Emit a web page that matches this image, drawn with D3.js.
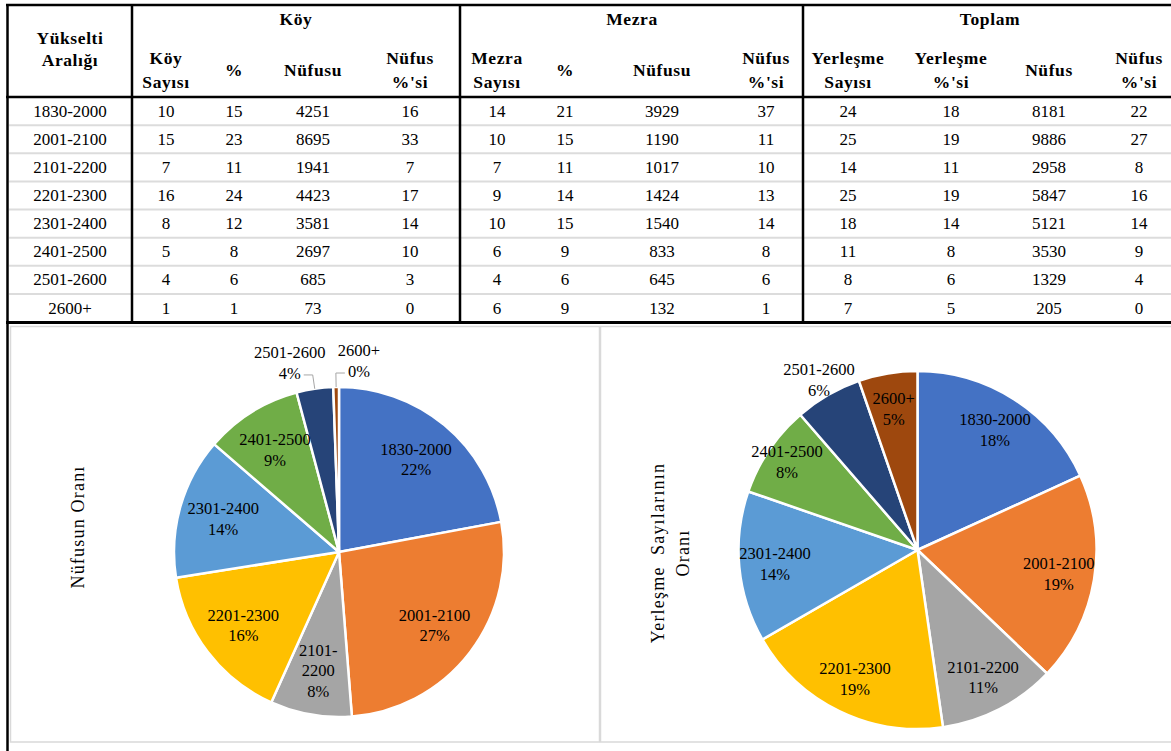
<!DOCTYPE html>
<html>
<head>
<meta charset="utf-8">
<script src="https://cdn.jsdelivr.net/npm/d3@7/dist/d3.min.js"></script>
<style>
  body { margin: 0; background: #fff; }
  text { font-family: "Liberation Serif", "Times New Roman", serif; fill: #000; }
</style>
</head>
<body>
<svg id="chart" width="1171" height="751"></svg>
<script>
var ranges = ["1830-2000", "2001-2100", "2101-2200", "2201-2300", "2301-2400", "2401-2500", "2501-2600", "2600+"];

var koySayisi     = [10, 15, 7, 16, 8, 5, 4, 1];
var koyPct        = [15, 23, 11, 24, 12, 8, 6, 1];
var koyNufus      = [4251, 8695, 1941, 4423, 3581, 2697, 685, 73];
var koyNufusPct   = [16, 33, 7, 17, 14, 10, 3, 0];

var mezraSayisi   = [14, 10, 7, 9, 10, 6, 4, 6];
var mezraPct      = [21, 15, 11, 14, 15, 9, 6, 9];
var mezraNufus    = [3929, 1190, 1017, 1424, 1540, 833, 645, 132];
var mezraNufusPct = [37, 11, 10, 13, 14, 8, 6, 1];

var yerlesmeSayisi = [24, 25, 14, 25, 18, 11, 8, 7];
var yerlesmePct    = [18, 19, 11, 19, 14, 8, 6, 5];
var toplamNufus    = [8181, 9886, 2958, 5847, 5121, 3530, 1329, 205];
var toplamNufusPct = [22, 27, 8, 16, 14, 9, 4, 0];

var groupHeaders = ["Köy", "Mezra", "Toplam"];
var firstHeader = ["Yükselti", "Aralığı"];
var pieTitles = [["Nüfusun Oranı"], ["Yerleşme  Sayılarının", "Oranı"]];

var palette = ["#4472C4", "#ED7D31", "#A5A5A5", "#FFC000", "#5B9BD5", "#70AD47", "#264478", "#9E480E"];

var columns = [
  { head: ["Köy", "Sayısı"], values: koySayisi },
  { head: ["%"], values: koyPct },
  { head: ["Nüfusu"], values: koyNufus },
  { head: ["Nüfus", "%'si"], values: koyNufusPct },
  { head: ["Mezra", "Sayısı"], values: mezraSayisi },
  { head: ["%"], values: mezraPct },
  { head: ["Nüfusu"], values: mezraNufus },
  { head: ["Nüfus", "%'si"], values: mezraNufusPct },
  { head: ["Yerleşme", "Sayısı"], values: yerlesmeSayisi },
  { head: ["Yerleşme", "%'si"], values: yerlesmePct },
  { head: ["Nüfus"], values: toplamNufus },
  { head: ["Nüfus", "%'si"], values: toplamNufusPct }
];

var svg = d3.select('#chart');
var WIDTH = 1171, HEIGHT = 751;

svg.append('rect').attr('width', WIDTH).attr('height', HEIGHT).attr('fill', '#fff');

// ---- table ----
var colX = d3.scaleOrdinal()
  .domain(d3.range(columns.length))
  .range([166, 234, 313, 410, 497, 565, 662, 766, 848, 951, 1049, 1139]);
var groupX = d3.scaleOrdinal().domain(groupHeaders).range([296, 632, 990]);
var rowY = d3.scaleBand().domain(ranges).range([97, 322]);

var table = svg.append('g').attr('class', 'table');

// light row separators
table.selectAll('line.rowsep')
  .data(ranges.slice(1))
  .enter().append('line')
  .attr('x1', 9).attr('x2', WIDTH)
  .attr('y1', function(d) { return rowY(d); })
  .attr('y2', function(d) { return rowY(d); })
  .attr('stroke', '#dcdcdc')
  .attr('stroke-width', 2);

// frames of the two charts
var frames = [[10.5, 326.5, 589, 415.5], [600.5, 326.5, 580, 415.5]];
svg.selectAll('rect.frame')
  .data(frames)
  .enter().append('rect')
  .attr('x', function(d) { return d[0]; })
  .attr('y', function(d) { return d[1]; })
  .attr('width', function(d) { return d[2]; })
  .attr('height', function(d) { return d[3]; })
  .attr('fill', 'none')
  .attr('stroke', '#d9d9d9')
  .attr('stroke-width', 1.5);

// heavy black rules
var black = table.append('g').attr('stroke', '#000');
black.append('line').attr('x1', 6).attr('x2', WIDTH).attr('y1', 5).attr('y2', 5).attr('stroke-width', 2.5);
black.append('line').attr('x1', 6).attr('x2', WIDTH).attr('y1', 97).attr('y2', 97).attr('stroke-width', 2.5);
black.append('line').attr('x1', 6).attr('x2', WIDTH).attr('y1', 322.5).attr('y2', 322.5).attr('stroke-width', 3);
black.append('line').attr('x1', 7.5).attr('x2', 7.5).attr('y1', 4).attr('y2', HEIGHT).attr('stroke-width', 2.5);
black.selectAll('line.vdiv')
  .data([132, 460, 803])
  .enter().append('line')
  .attr('x1', function(d) { return d; }).attr('x2', function(d) { return d; })
  .attr('y1', 4).attr('y2', 322)
  .attr('stroke-width', 2.5);

// header texts
var headFont = 17.5;
var headSpacing = 0.6;
table.append('text')
  .attr('y', 38)
  .attr('text-anchor', 'middle')
  .attr('font-weight', 'bold').attr('font-size', headFont)
  .attr('letter-spacing', headSpacing)
  .selectAll('tspan').data(firstHeader).enter().append('tspan')
  .attr('x', 70).attr('dy', function(d, i) { return i === 0 ? '0.35em' : 22; })
  .text(function(d) { return d; });

table.selectAll('text.group')
  .data(groupHeaders)
  .enter().append('text')
  .attr('class', 'group')
  .attr('x', function(d) { return groupX(d); })
  .attr('y', 19).attr('dy', '0.35em')
  .attr('text-anchor', 'middle')
  .attr('font-weight', 'bold').attr('font-size', headFont)
  .attr('letter-spacing', headSpacing)
  .text(function(d) { return d; });

table.selectAll('text.sub')
  .data(columns)
  .enter().append('text')
  .attr('class', 'sub')
  .attr('text-anchor', 'middle')
  .attr('font-weight', 'bold').attr('font-size', headFont)
  .attr('letter-spacing', headSpacing)
  .attr('y', function(d) { return d.head.length === 2 ? 58 : 70; })
  .each(function(d, i) {
    d3.select(this).selectAll('tspan').data(d.head).enter().append('tspan')
      .attr('x', colX(i))
      .attr('dy', function(t, j) { return j === 0 ? '0.35em' : 24; })
      .text(function(t) { return t; });
  });

// body cells
var dataFont = 17;
table.selectAll('text.range')
  .data(ranges)
  .enter().append('text')
  .attr('x', 70)
  .attr('y', function(d) { return rowY(d) + rowY.bandwidth() / 2; })
  .attr('dy', '0.33em')
  .attr('text-anchor', 'middle')
  .attr('font-size', dataFont)
  .text(function(d) { return d; });

columns.forEach(function(col, ci) {
  table.selectAll('text.c' + ci)
    .data(col.values)
    .enter().append('text')
    .attr('x', colX(ci))
    .attr('y', function(d, i) { return rowY(ranges[i]) + rowY.bandwidth() / 2; })
    .attr('dy', '0.33em')
    .attr('text-anchor', 'middle')
    .attr('font-size', dataFont)
    .text(function(d) { return d; });
});

// ---- pies ----
var color = d3.scaleOrdinal().domain(ranges).range(palette);

function drawPie(cfg) {
  var g = svg.append('g').attr('transform', 'translate(' + cfg.cx + ',' + cfg.cy + ')');
  var pie = d3.pie().sort(null).value(function(d) { return d.value; });
  var slices = pie(ranges.map(function(r, i) {
    return { name: r, value: cfg.values[i], pct: cfg.pcts[i] };
  }));
  var arc = d3.arc().innerRadius(0).outerRadius(cfg.r);

  g.selectAll('path.slice')
    .data(slices)
    .enter().append('path')
    .attr('d', arc)
    .attr('fill', function(d) { return color(d.data.name); })
    .attr('stroke', '#fff')
    .attr('stroke-width', 2.5)
    .attr('stroke-linejoin', 'round');

  var lh = 20.5;
  var outside = [];
  slices.forEach(function(d) {
    var a = (d.startAngle + d.endAngle) / 2;
    var share = (d.endAngle - d.startAngle) / (2 * Math.PI);
    var lines, x, y;
    if (share < 0.05) {
      // small slice: label outside with a leader line
      var p0 = [Math.sin(a) * cfg.r, -Math.cos(a) * cfg.r];
      var el = [Math.sin(a) * (cfg.r + 14), -Math.cos(a) * (cfg.r + 14)];
      var side = p0[0] < 0 ? -1 : 1;
      var cx = el[0] + side * 23;
      outside.forEach(function(o) {
        if (o.side === side && Math.abs(o.cx - cx) < 60) {
          side = -side;
          cx = el[0] + side * 23;
        }
      });
      outside.push({ side: side, cx: cx });
      g.append('polyline')
        .attr('points', [p0, el, [el[0] + side * 9, el[1]]].map(function(p) { return p.join(','); }).join(' '))
        .attr('fill', 'none')
        .attr('stroke', '#a6a6a6')
        .attr('stroke-width', 1);
      lines = [d.data.name, d.data.pct + '%'];
      x = cx;
      y = el[1] - 2 - lh / 2;
    } else {
      var k = (cfg.labelK && cfg.labelK[d.data.name]) || cfg.k;
      x = Math.sin(a) * cfg.r * k;
      y = -Math.cos(a) * cfg.r * k;
      lines = cfg.wrap.indexOf(d.data.name) >= 0
        ? [d.data.name.split('-')[0] + '-', d.data.name.split('-')[1]]
        : [d.data.name];
      lines.push(d.data.pct + '%');
    }
    var t = g.append('text')
      .attr('text-anchor', 'middle')
      .attr('font-size', 16.5);
    t.selectAll('tspan').data(lines).enter().append('tspan')
      .attr('x', x)
      .attr('y', function(s, i) { return y - (lines.length - 1) * lh / 2 + i * lh; })
      .attr('dy', '0.35em')
      .text(function(s) { return s; });
  });

  // rotated axis title
  var tt = svg.append('text')
    .attr('transform', 'translate(' + cfg.tx + ',' + cfg.ty + ') rotate(-90)')
    .attr('text-anchor', 'middle')
    .attr('font-size', 18)
    .attr('letter-spacing', 1.2)
    .style('white-space', 'pre');
  tt.selectAll('tspan').data(cfg.title).enter().append('tspan')
    .attr('x', 0)
    .attr('y', function(s, i) { return (i - (cfg.title.length - 1) / 2) * 25.5; })
    .attr('dy', '0.35em')
    .text(function(s) { return s; });
}

drawPie({
  cx: 339, cy: 552, r: 165, k: 0.73,
  values: toplamNufus, pcts: toplamNufusPct,
  wrap: ["2101-2200"],
  title: pieTitles[0], tx: 78, ty: 527
});

drawPie({
  cx: 917.5, cy: 550, r: 179, k: 0.8,
  labelK: { "2501-2600": 1.1, "2401-2500": 0.88 },
  values: yerlesmeSayisi, pcts: yerlesmePct,
  wrap: [],
  title: pieTitles[1], tx: 670, ty: 553
});
</script>
</body>
</html>
